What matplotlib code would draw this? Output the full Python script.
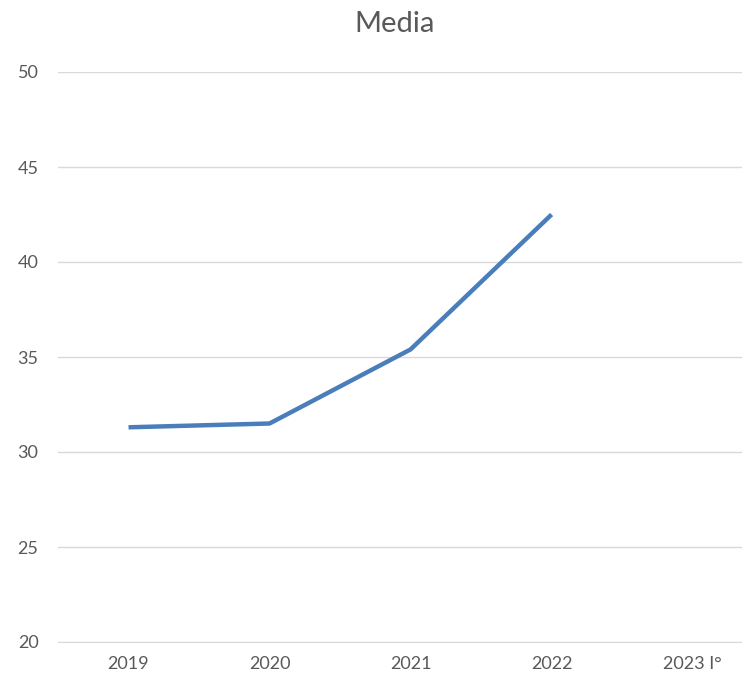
import numpy as np
import matplotlib.pyplot as plt

anni = ["2019", "2020", "2021", "2022", "2023 I°"]
media = [31.3, 31.5, 35.4, 42.5, np.nan]
yticks = [20, 25, 30, 35, 40, 45, 50]

plt.rcParams['font.family'] = ['Lato', 'DejaVu Sans']

fig = plt.figure(figsize=(7.42, 6.77), dpi=100)
ax = fig.add_axes([58/742, 35/677, 1 - 58/742, (642-72)/677])

x = np.arange(len(anni))
ax.plot(x, media, color='#4a7ebb', linewidth=3.2, solid_capstyle='butt')

ax.set_ylim(20, 50)
ax.set_xlim(-0.5, 4.35)
ax.set_yticks(yticks)
ax.set_xticks(x)
ax.set_xticklabels(anni)
ax.grid(axis='y', color='#d9d9d9', linewidth=1)
ax.set_axisbelow(True)
for s in ['top', 'right', 'left']:
    ax.spines[s].set_visible(False)
ax.spines['bottom'].set_color('#d9d9d9')
ax.tick_params(length=0, colors='#595959', labelsize=13)
ax.tick_params(axis='y', pad=14)
ax.tick_params(axis='x', pad=10)

fig.text(395/742, 1 - 24/677, "Media", ha='center', va='center', fontsize=21, color='#595959')

fig.savefig("out.png", dpi=100)
